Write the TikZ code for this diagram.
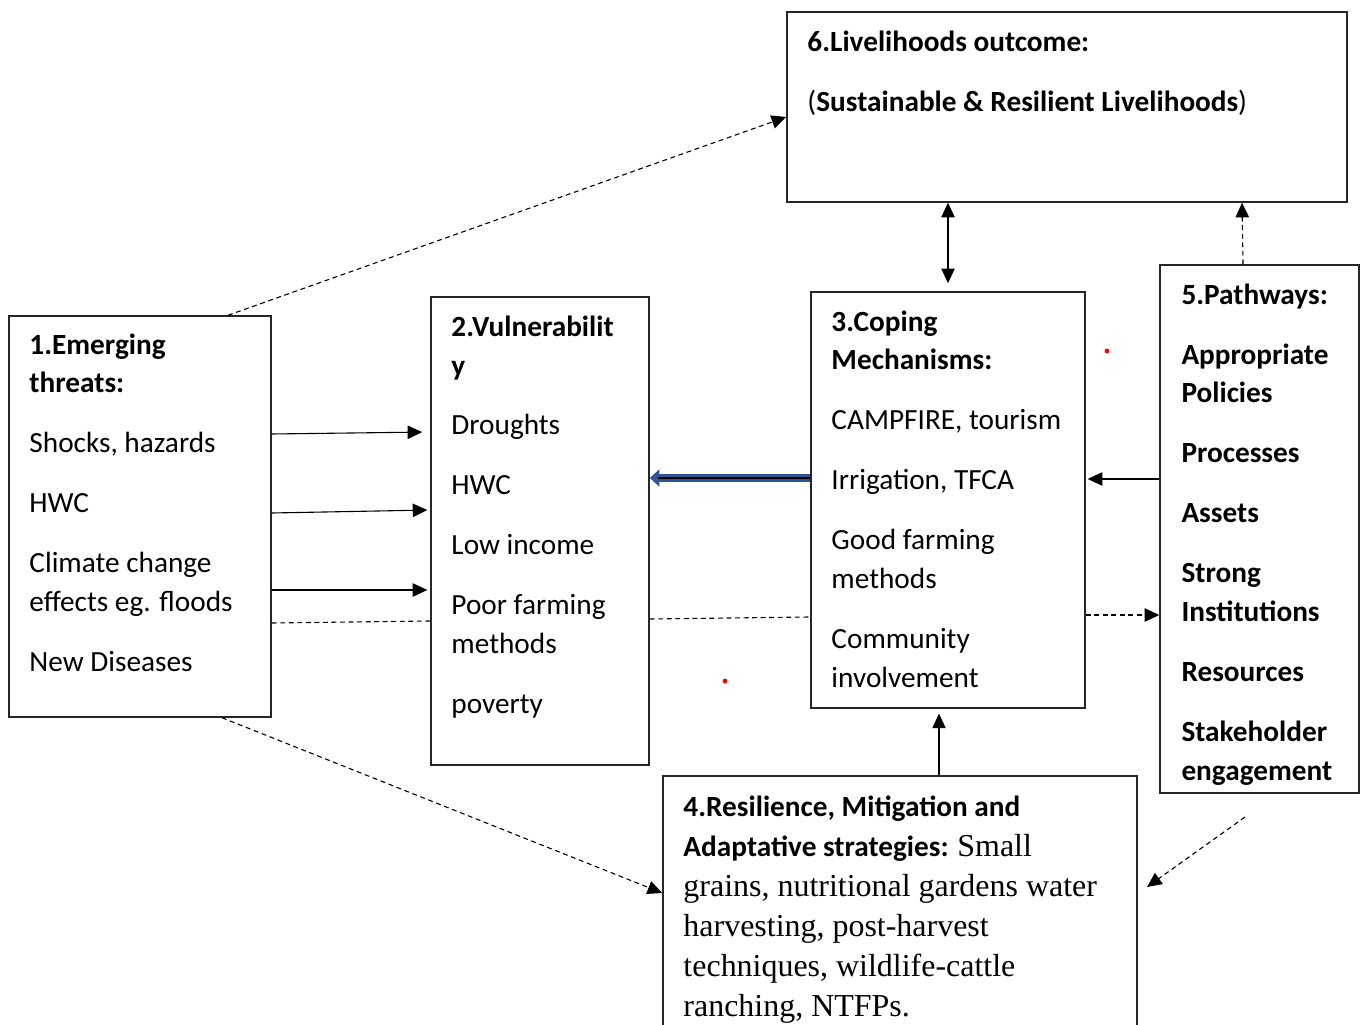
\documentclass[tikz,border=0pt]{standalone}
\usepackage{fontspec}
\setmainfont{Carlito}
\newfontfamily\timesfont{Liberation Serif}
\usetikzlibrary{arrows.meta,fit}

\begin{document}
\begin{tikzpicture}[x=0.41pt,y=-0.41pt,
	box/.style={draw=black!85,line width=0.6pt,inner sep=0pt},
	txt/.style={anchor=north west,inner sep=0pt,align=left,font=\fontsize{12}{15.8}\selectfont},
	arr/.style={line width=0.45pt,-{Triangle[length=6pt,width=5.5pt]}},
	dsh/.style={line width=0.45pt,dash pattern=on 2pt off 1.5pt}]
	\useasboundingbox (0,0) rectangle (1361,1025);
	% boxes
	\node[box,fit={(9,316) (271,717)}] (b1) {};
	\node[box,fit={(431,297) (649,765)}] (b2) {};
	\node[box,fit={(811,292) (1085,708)}] (b3) {};
	\node[box,fit={(663,776) (1137,1045)}] (b4) {};
	\node[box,fit={(1160,265) (1359,793)}] (b5) {};
	\node[box,fit={(787,12) (1347,202)}] (b6) {};
	% texts
	\node[txt] (t1) at (29,327) {\strut\textbf{1.Emerging}\\ \textbf{threats:}\\[8.8pt]
		Shocks, hazards\\[8.8pt] HWC\\[8.8pt] Climate change\\ effects eg. floods\\[8.8pt] New Diseases};
	\node[txt] (t2) at (451,309) {\strut\textbf{2.Vulnerabilit}\\ \textbf{y}\\[8.8pt]
		Droughts\\[8.8pt] HWC\\[8.8pt] Low income\\[8.8pt] Poor farming\\ methods\\[8.8pt] poverty};
	\node[txt] (t3) at (831,304) {\strut\textbf{3.Coping}\\ \textbf{Mechanisms:}\\[8.8pt]
		CAMPFIRE, tourism\\[8.8pt] Irrigation, TFCA\\[8.8pt] Good farming\\ methods\\[8.8pt] Community\\ involvement};
	\node[txt,font=\fontsize{12}{16.4}\selectfont] (t4) at (683,788) {\strut\textbf{4.Resilience, Mitigation and}\\
		\textbf{Adaptative strategies:} {\timesfont\fontsize{13.1}{16.4}\selectfont Small}\\
		{\timesfont\fontsize{13.1}{16.4}\selectfont grains, nutritional gardens water}\\
		{\timesfont\fontsize{13.1}{16.4}\selectfont harvesting, post-harvest}\\
		{\timesfont\fontsize{13.1}{16.4}\selectfont techniques, wildlife-cattle}\\
		{\timesfont\fontsize{13.1}{16.4}\selectfont ranching, NTFPs.}};
	\node[txt,font=\fontsize{12}{15.8}\selectfont\bfseries] (t5) at (1181,277) {\strut 5.Pathways:\\[8.8pt]
		Appropriate\\ Policies\\[8.8pt] Processes\\[8.8pt] Assets\\[8.8pt] Strong\\ Institutions\\[8.8pt]
		Resources\\[8.8pt] Stakeholder\\ engagement};
	\node[txt] (t6) at (807,24) {\strut\textbf{6.Livelihoods outcome:}\\[8.8pt]
		(\textbf{Sustainable \& Resilient Livelihoods})};
	% connectors
	\path [arr,shorten >=3.3pt] (b1.east |- 0,434) edge (b2.west |- 0,432);
	\path [arr,shorten >=1.2pt] (b1.east |- 0,513) edge (b2.west |- 0,510);
	\path [arr,shorten >=1.2pt] (b1.east |- 0,590) edge (b2.west |- 0,590);
	\path [dsh] (b1.east |- 0,623) edge (b2.west |- 0,621);
	\path [dsh] (b2.east |- 0,619) edge (b3.west |- 0,617);
	\path [dsh,arr] (b3.east |- 0,615) edge (b5.west |- 0,615);
	\path [arr,shorten >=0.8pt] (b5.west |- 0,479) edge (b3.east |- 0,479);
	\path [arr,{Triangle[length=6pt,width=5.5pt]}-{Triangle[length=6pt,width=5.5pt]},shorten >=3.3pt] (b6.south -| 948,0) edge (b3.north -| 948,0);
	\path [dsh,arr] (b5.north -| 1243,0) edge (b6.south -| 1242,0);
	\path [arr,shorten >=2pt] (b4.north -| 939,0) edge (b3.south -| 939,0);
	\path [dsh,arr] (b1.north -| 228,0) edge (b6.west |- 0,117);
	\path [dsh,arr] (b1.south -| 222,0) edge (b4.west |- 0,893);
	\coordinate (s5) at (1245,817);
	\coordinate (e4) at (1147,887);
	\path [dsh,arr] (s5) edge (e4);
	% blue arrow
	\path [draw={rgb,255:red,47;green,85;blue,151},line width=3pt,-{Triangle[length=4pt,width=7pt]}] (b3.west |- 0,478) -- (b2.east |- 0,478);
	\path [draw=black,line width=1.2pt,shorten >=3.3pt] (b3.west |- 0,478) -- (b2.east |- 0,478);
	% dots
	\fill[red] (1107,351) circle (1pt);
	\fill[red] (725,681) circle (1pt);
\end{tikzpicture}
\end{document}
